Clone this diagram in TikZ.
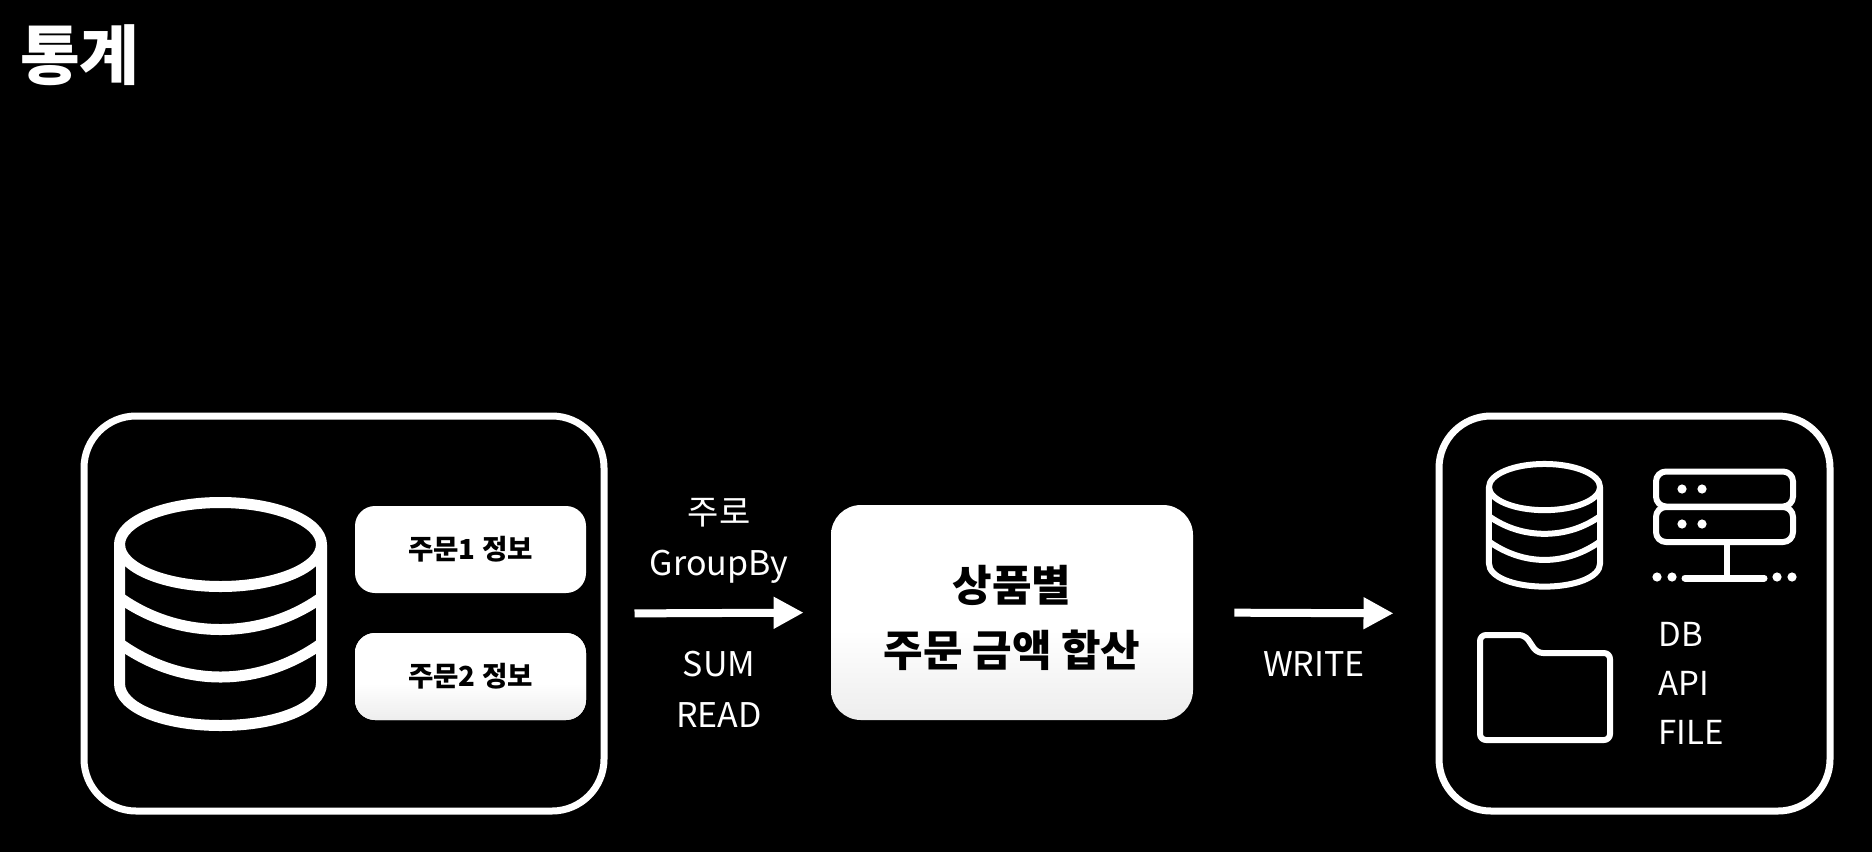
\documentclass[tikz,border=0pt]{standalone}
\usepackage{fontspec}
\setmainfont{Noto Sans CJK KR}
\usetikzlibrary{arrows.meta, positioning}
\pgfdeclareverticalshading{boxfade}{100bp}{color(0bp)=(black!7); color(25bp)=(black!7);
  color(46bp)=(white); color(100bp)=(white)}
\tikzset{
  % --- Khung ------------------------------------------------
  frame/.style={draw=white, line width=3.5pt, rounded corners=26pt, fill=none,
    minimum height=197.5pt},
  infobox/.style={fill=white, rounded corners=10pt, minimum width=115.5pt,
    minimum height=43.5pt, text height=13pt, text depth=2.6pt, text=black,
    font=\fontsize{13.8}{16}\selectfont\bfseries},
  sumbox/.style={shading=boxfade, rounded corners=15pt, minimum width=181pt,
    minimum height=107.5pt},
  sumtext/.style={align=center, text=black, inner sep=0pt,
    font=\fontsize{21.5}{32.5}\selectfont\bfseries},
  % --- Nhan --------------------------------------------------
  lbl/.style={text=white, align=center, inner sep=0pt,
    font=\fontsize{17}{25.5}\selectfont},
  fl/.style={-{Triangle[length=15pt, width=15pt]}, white, line width=4pt},
  % --- Bieu tuong --------------------------------------------
  icon/.style={draw=white, line join=round},
  dbicon/.pic={
    \draw[icon] (0,-69) ellipse [x radius=101, y radius=42];
    \draw[icon] (-101,-69) -- (-101,70)
      .. controls (-101,95) and (-55,112) .. (0,112)
      .. controls (55,112) and (101,95) .. (101,70) -- (101,-69);
    \draw[icon] (-101,-16) .. controls (-70,6) and (-35,16) .. (0,16)
      .. controls (35,16) and (70,6) .. (101,-16);
    \draw[icon] (-101,30) .. controls (-70,52) and (-35,63.5) .. (0,63.5)
      .. controls (35,63.5) and (70,52) .. (101,30);
  }
}

\begin{document}
\begin{tikzpicture}[x=0.5pt, y=-0.5pt]

  \useasboundingbox (0,0) rectangle (1872,852);
  \fill[black] (0,0) rectangle (1872,852);

  \node[text=white, inner sep=0pt, font=\fontsize{32.5}{36}\selectfont\bfseries] (title)
    at (80,55) {통계};

  % ---------- Nguon: co so du lieu ----------
  \node[frame, minimum width=260pt] (srcframe) at (344,613.5) {};
  \pic[line width=5.5pt] at (220.5,613.5) {dbicon};
  \node[infobox] (order1) at (470.5,549.5) {주문1 정보};
  \node[infobox, shading=boxfade] (order2) at (470.5,676.5) {주문2 정보};

  % ---------- Xu ly ----------
  \node[sumbox] (sum) at (1012,612.5) {};
  \node[sumtext, yshift=-2.5pt] (sumlabel) at (sum) {상품별\\주문 금액 합산};

  % ---------- Dich ----------
  \node[frame, minimum width=195.5pt] (dstframe) at (1634.5,613.5) {};
  \pic[line width=3pt, scale=0.55] at (1544.5,525) {dbicon};

  % may chu
  \node[icon, line width=3pt, rounded corners=5pt, minimum width=68.5pt,
    minimum height=17.5pt] (srvtop) at (1724.5,489) {};
  \node[icon, line width=3pt, rounded corners=5pt, minimum width=68.5pt,
    minimum height=17.5pt] (srvlow) at (1724.5,524.5) {};
  \foreach \x in {1682,1702} {
    \fill[white] (\x,489) circle (2.3pt);
    \fill[white] (\x,524) circle (2.3pt);
  }
  \coordinate (srvbase) at (1727,578);
  \draw[icon, line width=3pt] (srvlow.south -| srvbase) -- (srvbase);
  \draw[icon, line width=3.5pt, line cap=round] (1685,578) -- (1764,578);
  \foreach \x in {1657,1672,1777,1792}
    \fill[white] (\x,577) circle (2.3pt);

  % thu muc
  \draw[icon, line width=3pt, rounded corners=3pt] (1480,635) -- (1525,635)
    -- (1537,653) -- (1610,653) -- (1610,740) -- (1480,740) -- cycle;

  \node[lbl, align=left, anchor=west, font=\fontsize{16.5}{24.5}\selectfont] (targets)
    at (1658,683) {DB\\API\\FILE};

  % ---------- Ket noi ----------
  \draw[fl, shorten <=27*0.5pt, shorten >=27*0.5pt] (srcframe.east) -- (sum.west);
  \draw[fl, shorten <=41*0.5pt, shorten >=42*0.5pt] (sum.east) -- (dstframe.west);
  \node[lbl] (readup) at (719,541) {주로\\GroupBy};
  \node[lbl] (readlow) at (719,689.5) {SUM\\READ};
  \node[lbl] (write) at (1314,664.5) {WRITE};

\end{tikzpicture}
\end{document}
